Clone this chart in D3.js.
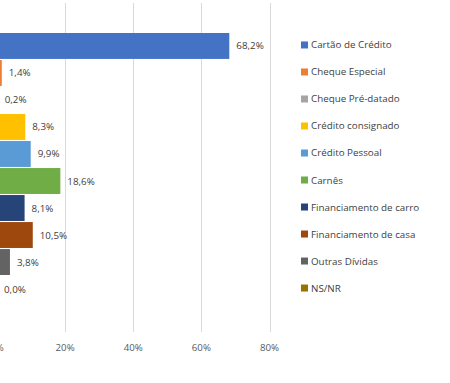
<!DOCTYPE html>
<html><head><meta charset="utf-8">
<script src="https://cdn.jsdelivr.net/npm/d3@7"></script>
<style>body{margin:0;background:#fff}svg{display:block}text{font-family:"Open Sans","Liberation Sans",sans-serif}</style>
</head><body><svg id="c" width="450" height="383"></svg>
<script>
const categories = ["Cartão de Crédito","Cheque Especial","Cheque Pré-datado","Crédito consignado","Crédito Pessoal","Carnês","Financiamento de carro","Financiamento de casa","Outras Dívidas","NS/NR"];
const values = [68.2,1.4,0.2,8.3,9.9,18.6,8.1,10.5,3.8,0.0];
const colors = ["#4472C4","#ED7D31","#A5A5A5","#FFC000","#5B9BD5","#70AD47","#264478","#9E480E","#636363","#997300"];
const ticks = [0,20,40,60,80];

const svg = d3.select("#c");
const x = d3.scaleLinear().domain([0,80]).range([-3,269.5]);
const y = d3.scaleBand().domain(categories).range([33,302]).paddingInner(0.04);

svg.append("g").selectAll("line").data(ticks.slice(1)).join("line")
  .attr("x1",d=>Math.round(x(d))+0.5).attr("x2",d=>Math.round(x(d))+0.5)
  .attr("y1",3).attr("y2",332).attr("stroke","#d9d9d9").attr("stroke-width",1);

svg.append("g").selectAll("text").data(ticks).join("text")
  .attr("x",d=>x(d)).attr("y",351).attr("text-anchor","middle")
  .attr("font-size",9.7).attr("fill","#595959").text(d=>d+"%");

svg.append("g").selectAll("rect").data(categories).join("rect")
  .attr("x",x(0)).attr("y",d=>y(d)).attr("height",y.bandwidth())
  .attr("width",(d,i)=>x(values[i])-x(0)).attr("fill",(d,i)=>colors[i]);

svg.append("g").selectAll("text").data(categories).join("text")
  .attr("x",(d,i)=>x(values[i])+7).attr("y",d=>y(d)+y.bandwidth()/2+3.5)
  .attr("font-size",9.8).attr("fill","#404040")
  .text((d,i)=>values[i].toFixed(1).replace(".",",")+"%");

const lg = svg.append("g").selectAll("g").data(categories).join("g")
  .attr("transform",(d,i)=>`translate(301,${y(d)+y.bandwidth()/2-1})`);
lg.append("rect").attr("x",0).attr("y",-3.5).attr("width",7).attr("height",7).attr("fill",(d,i)=>colors[i]);
lg.append("text").attr("x",10).attr("y",3.5).attr("font-size",9.8).attr("fill","#404040").text(d=>d);
</script></body></html>
